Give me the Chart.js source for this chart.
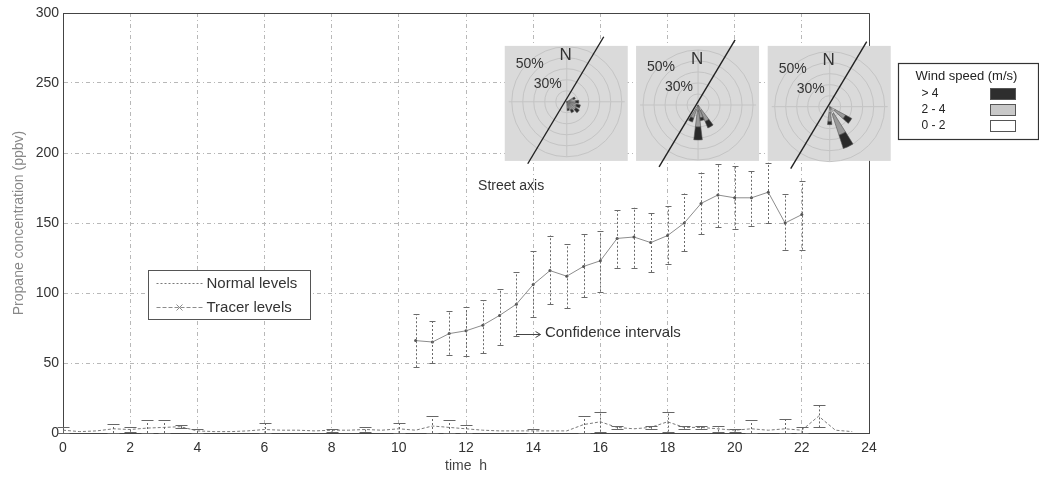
<!DOCTYPE html>
<html>
<head>
<meta charset="utf-8">
<script src="https://cdn.jsdelivr.net/npm/chart.js@4.4.1/dist/chart.umd.min.js"></script>
<style>
  html, body { margin: 0; background: #fff; }
</style>
</head>
<body>
<canvas id="chart" width="1039" height="479"></canvas>
<script>
// tracer release (hours 10.5 - 22)
const tracerHours = [10.5, 11, 11.5, 12, 12.5, 13, 13.5, 14, 14.5, 15, 15.5, 16,
                     16.5, 17, 17.5, 18, 18.5, 19, 19.5, 20, 20.5, 21, 21.5, 22];
const tracerValues = [66, 65, 71, 73, 77, 84, 92, 106, 116, 112, 119, 123,
                      139, 140, 136, 141, 150, 164, 170, 168, 168, 172, 150, 156];
const tracerLow  = [47, 50, 56, 55, 57, 63, 69, 83, 92, 89, 97, 101,
                    118, 118, 115, 121, 130, 142, 147, 146, 148, 150, 131, 131];
const tracerHigh = [85, 80, 87, 90, 95, 103, 115, 130, 141, 135, 142, 144,
                    159, 161, 157, 162, 171, 186, 192, 191, 187, 193, 171, 180];

// normal levels over the whole day
const normalHours = [0, 0.5, 1, 1.5, 2, 2.5, 3, 3.5, 4, 4.5, 5, 5.5, 6, 6.5, 7, 7.5,
                     8, 8.5, 9, 9.5, 10, 10.5, 11, 11.5, 12, 12.5, 13, 13.5, 14, 14.5, 15, 15.5,
                     16, 16.5, 17, 17.5, 18, 18.5, 19, 19.5, 20, 20.5, 21, 21.5, 22, 22.5, 23, 23.5];
const normalValues = [2, 1, 1.5, 3, 2.5, 3.5, 4, 4.5, 1.5, 1, 1, 1.5, 2.5, 2, 2, 1.5,
                      2, 2, 2.5, 2, 3, 2, 5, 4, 3, 2, 1.5, 1.5, 1.5, 1.5, 1.5, 6,
                      8, 4, 3, 4, 8, 4, 4, 3, 2, 3, 2, 3, 2, 12, 2, 1];
const normalHigh = [4, null, null, 6.5, 4, 9, 9, 5.5, 3, null, null, null, 7, null, null, null,
                    3, null, 4, null, 7, null, 12, 9, 6, null, null, null, 3, null, null, 12,
                    15, 5, null, 5, 15, 5, 5, 5, 3, 9, null, 10, 4.5, 20, null, null];
const normalLow  = [0, null, null, 0, 1, 0, 0, 3.5, 0, null, null, null, 0, null, null, null,
                    1, null, 1, null, 0, null, 0, 0, 0, null, null, null, 0, null, null, 0,
                    1, 3, null, 3, 1, 3, 3, 1, 1, 0, null, 0, 0, 4, null, null];

const xTicks = [0, 2, 4, 6, 8, 10, 12, 14, 16, 18, 20, 22, 24];
const yTicks = [0, 50, 100, 150, 200, 250, 300];

// wind roses: direction (deg from N), lengths of the 0-2 / 2-4 / >4 parts (px)
const rosePetals = [
  [[65, 3, 4, 2], [90, 3, 6, 3], [110, 3, 7, 4], [130, 3, 8, 4], [150, 3, 6, 3], [170, 3, 4, 2]],
  [[150, 6, 12, 7], [180, 6, 16, 13], [205, 5, 9, 4], [165, 5, 8, 3]],
  [[125, 6, 12, 7], [155, 8, 22, 14], [180, 6, 9, 3]]
];
const roseCentres = [[15, 236.6], [18.91, 234.3], [22.83, 233.1]];
const roseBoxTop = 276.5;

const FONT = '"Liberation Sans", Arial, sans-serif';

const errorBars = {
  id: 'errorBars',
  afterDatasetsDraw(chart) {
    const {ctx, scales: {x, y}} = chart;
    chart.data.datasets.forEach(ds => {
      if (!ds.errHigh) return;
      ctx.save();
      ctx.strokeStyle = ds.errColor;
      ctx.lineWidth = 1;
      ds.data.forEach((p, i) => {
        const hi = ds.errHigh[i], lo = ds.errLow[i];
        if (hi == null) return;
        const px = Math.round(x.getPixelForValue(p.x)) + 0.5;
        const y1 = y.getPixelForValue(lo), y2 = y.getPixelForValue(hi);
        ctx.setLineDash([2, 2]);
        ctx.beginPath(); ctx.moveTo(px, y1); ctx.lineTo(px, y2); ctx.stroke();
        ctx.setLineDash([]);
        ctx.beginPath();
        ctx.moveTo(px - ds.capW, Math.round(y1) + 0.5); ctx.lineTo(px + ds.capW, Math.round(y1) + 0.5);
        ctx.moveTo(px - ds.capW, Math.round(y2) + 0.5); ctx.lineTo(px + ds.capW, Math.round(y2) + 0.5);
        ctx.stroke();
      });
      ctx.restore();
    });
  }
};

function drawRose(ctx, cx, cy, top, petals) {
  ctx.save();
  ctx.fillStyle = '#dadada';
  ctx.fillRect(cx - 62, top, 123, 115);
  ctx.strokeStyle = '#c4c4c4';
  ctx.lineWidth = 1;
  [11, 22, 33, 44, 55].forEach(r => {
    ctx.beginPath(); ctx.arc(cx, cy, r, 0, Math.PI * 2); ctx.stroke();
  });
  ctx.beginPath();
  ctx.moveTo(cx - 58, cy); ctx.lineTo(cx + 58, cy);
  ctx.moveTo(cx, cy - 55); ctx.lineTo(cx, cy + 55);
  ctx.stroke();
  const cols = ['#f4f4f4', '#9a9a9a', '#2a2a2a'];
  petals.forEach(([dir, a, b, c]) => {
    const t = (dir - 90) * Math.PI / 180, w = 7 * Math.PI / 180;
    let r0 = 0;
    [a, b, c].forEach((len, k) => {
      const r1 = r0 + len;
      ctx.beginPath();
      ctx.arc(cx, cy, r1, t - w, t + w);
      ctx.arc(cx, cy, r0, t + w, t - w, true);
      ctx.closePath();
      ctx.fillStyle = cols[k];
      ctx.fill();
      ctx.strokeStyle = '#555';
      ctx.lineWidth = 0.6;
      ctx.stroke();
      r0 = r1;
    });
  });
  ctx.strokeStyle = '#222';
  ctx.lineWidth = 1.4;
  ctx.beginPath(); ctx.moveTo(cx + 37, cy - 65); ctx.lineTo(cx - 39, cy + 62); ctx.stroke();
  ctx.fillStyle = '#333';
  ctx.textAlign = 'center';
  ctx.textBaseline = 'middle';
  ctx.font = '14px ' + FONT;
  ctx.fillText('50%', cx - 37, cy - 38);
  ctx.fillText('30%', cx - 19, cy - 18);
  ctx.font = '17px ' + FONT;
  ctx.fillText('N', cx - 1, cy - 46);
  ctx.restore();
}

const annotations = {
  id: 'annotations',
  afterDraw(chart) {
    const {ctx, chartArea: ca, scales: {x, y}} = chart;
    ctx.save();
    // top and right box edges
    ctx.strokeStyle = '#444';
    ctx.lineWidth = 1;
    ctx.beginPath();
    ctx.moveTo(ca.left, ca.top + 0.5); ctx.lineTo(ca.right + 0.5, ca.top + 0.5); ctx.lineTo(ca.right + 0.5, ca.bottom);
    ctx.stroke();

    const boxTop = y.getPixelForValue(roseBoxTop);
    roseCentres.forEach(([h, v], i) => drawRose(ctx, x.getPixelForValue(h), y.getPixelForValue(v), boxTop, rosePetals[i]));

    ctx.fillStyle = '#333';
    ctx.textBaseline = 'middle';
    ctx.textAlign = 'left';
    ctx.font = '14px ' + FONT;
    ctx.fillText('Street axis', x.getPixelForValue(12.36), y.getPixelForValue(176.2));
    ctx.font = '15px ' + FONT;
    ctx.fillText('Confidence intervals', x.getPixelForValue(14.35), y.getPixelForValue(71.4));
    // arrow
    const ay = Math.round(y.getPixelForValue(70.5)) + 0.5;
    const ax0 = x.getPixelForValue(13.5), ax1 = x.getPixelForValue(14.22);
    ctx.strokeStyle = '#444';
    ctx.beginPath();
    ctx.moveTo(ax0, ay); ctx.lineTo(ax1, ay);
    ctx.moveTo(ax1 - 5, ay - 3); ctx.lineTo(ax1, ay); ctx.lineTo(ax1 - 5, ay + 3);
    ctx.stroke();

    // series legend
    const lx = Math.round(x.getPixelForValue(2.54)) + 0.5, ly = Math.round(y.getPixelForValue(116.4)) + 0.5;
    ctx.fillStyle = '#fff';
    ctx.fillRect(lx, ly, 162, 49);
    ctx.strokeStyle = '#555';
    ctx.strokeRect(lx, ly, 162, 49);
    const ds = chart.data.datasets;
    [[ds[0], 13], [ds[1], 37]].forEach(([d, dy]) => {
      ctx.strokeStyle = d.borderColor;
      ctx.setLineDash(d.legendDash);
      ctx.beginPath(); ctx.moveTo(lx + 8, ly + dy); ctx.lineTo(lx + 54, ly + dy); ctx.stroke();
      ctx.setLineDash([]);
      if (d.legendMarker) {
        const mx = lx + 31, my = ly + dy;
        ctx.beginPath();
        ctx.moveTo(mx - 3, my - 3); ctx.lineTo(mx + 3, my + 3);
        ctx.moveTo(mx - 3, my + 3); ctx.lineTo(mx + 3, my - 3);
        ctx.stroke();
      }
      ctx.fillStyle = '#333';
      ctx.font = '15px ' + FONT;
      ctx.fillText(d.label, lx + 58, ly + dy);
    });

    // wind speed legend
    const wx = ca.right + 29.5, wy = ca.top + 50.5;
    ctx.strokeStyle = '#333';
    ctx.lineWidth = 1.2;
    ctx.strokeRect(wx, wy, 140, 76);
    ctx.fillStyle = '#222';
    ctx.font = '13px ' + FONT;
    ctx.fillText('Wind speed (m/s)', wx + 17, wy + 13);
    ctx.font = '12px ' + FONT;
    [['> 4', '#2e2e2e'], ['2 - 4', '#c8c8c8'], ['0 - 2', '#fff']].forEach(([t, c], k) => {
      const ry = wy + 30 + k * 16;
      ctx.fillStyle = '#222';
      ctx.fillText(t, wx + 23, ry);
      ctx.fillStyle = c;
      ctx.fillRect(wx + 92, ry - 5, 25, 11);
      ctx.lineWidth = 1;
      ctx.strokeStyle = '#555';
      ctx.strokeRect(wx + 92, ry - 5, 25, 11);
    });
    ctx.restore();
  }
};

new Chart(document.getElementById('chart'), {
  type: 'line',
  data: {
    datasets: [
      {
        label: 'Normal levels',
        data: normalHours.map((h, i) => ({x: h, y: normalValues[i]})),
        borderColor: '#7a7a7a',
        borderWidth: 1,
        borderDash: [3, 2],
        pointRadius: 0,
        tension: 0,
        errHigh: normalHigh,
        errLow: normalLow,
        errColor: '#666',
        capW: 6,
        legendDash: [2, 2]
      },
      {
        label: 'Tracer levels',
        data: tracerHours.map((h, i) => ({x: h, y: tracerValues[i]})),
        borderColor: '#8c8c8c',
        borderWidth: 1,
        pointRadius: 1.5,
        pointBackgroundColor: '#555',
        pointBorderWidth: 0,
        tension: 0,
        errHigh: tracerHigh,
        errLow: tracerLow,
        errColor: '#6a6a6a',
        capW: 3,
        legendDash: [4, 2],
        legendMarker: true
      }
    ]
  },
  options: {
    responsive: false,
    animation: false,
    devicePixelRatio: 1,
    layout: { padding: { top: 13, right: 170, left: 0, bottom: 0 } },
    plugins: { legend: { display: false }, tooltip: { enabled: false } },
    scales: {
      x: {
        type: 'linear',
        min: 0, max: 24,
        afterBuildTicks: s => { s.ticks = xTicks.map(v => ({value: v})); },
        afterFit: s => { s.height = 46; },
        ticks: { color: '#333', font: { family: FONT, size: 14 }, padding: 7, maxRotation: 0 },
        grid: { color: '#b8b8b8', drawTicks: false },
        border: { color: '#444', width: 1, dash: [4, 3, 1, 3] },
        title: { display: true, text: 'time  h', color: '#444', font: { family: FONT, size: 14 }, padding: { top: 0, bottom: 4 } }
      },
      y: {
        min: 0, max: 300,
        afterBuildTicks: s => { s.ticks = yTicks.map(v => ({value: v})); },
        afterFit: s => { s.width = 63; },
        ticks: { color: '#333', font: { family: FONT, size: 14 }, padding: 4 },
        grid: { color: '#b8b8b8', drawTicks: false },
        border: { color: '#444', width: 1, dash: [4, 3, 1, 3] },
        title: { display: true, text: 'Propane concentration (ppbv)', color: '#888', font: { family: FONT, size: 14 }, padding: { top: 11, bottom: 0 } }
      }
    }
  },
  plugins: [errorBars, annotations]
});
</script>
</body>
</html>
